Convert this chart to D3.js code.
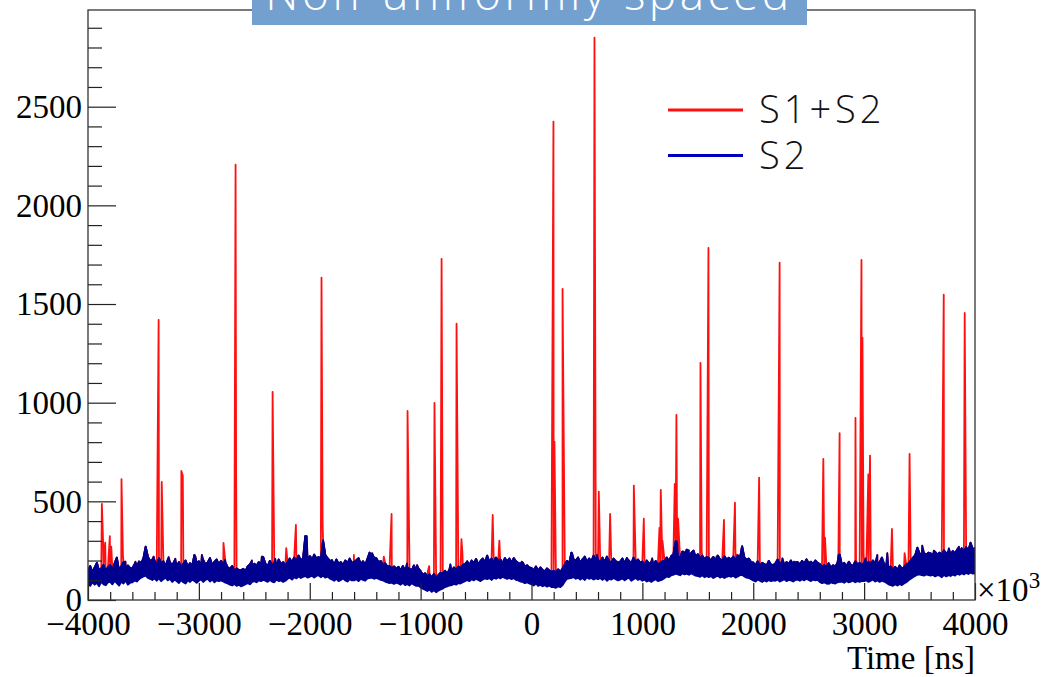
<!DOCTYPE html>
<html>
<head>
<meta charset="utf-8">
<script src="https://cdn.jsdelivr.net/npm/d3@7"></script>
<style>
  html, body { margin: 0; padding: 0; background: #ffffff; }
  svg { display: block; }
</style>
</head>
<body>
<svg id="chart" width="1042" height="677"></svg>
<script>
// ---------------- DATA ----------------
const tStart = -4000;   // first bin time (×10^3 ns)
const tStep = 20;       // bin width (×10^3 ns)

// S2: upper edge of the noisy trace in each 20 ×10^3 ns bin
const s2High = [
  150, 172, 140, 165, 188, 148, 160, 178, 142, 166,
  178, 152, 186, 215, 150, 170, 192, 158, 175, 162,
  160, 182, 168, 195, 186, 212, 270, 220, 196, 205,
  200, 178, 212, 185, 196, 172, 205, 190, 176, 198,
  170, 192, 165, 184, 200, 168, 186, 174, 228, 188,
  196, 175, 202, 180, 190, 212, 176, 194, 205, 182,
  198, 180, 188, 165, 158, 172, 148, 160, 152, 150,
  158, 146, 170, 180, 160, 184, 172, 192, 178, 218,
  185, 170, 198, 176, 190, 172, 205, 180, 192, 174,
  192, 210, 186, 215, 198, 225, 200, 212, 324, 205,
  222, 200, 230, 210, 218, 205, 302, 228, 212, 200,
  196, 178, 205, 184, 192, 176, 200, 182, 210, 186,
  190, 202, 212, 182, 196, 178, 208, 240, 198, 215,
  212, 192, 198, 175, 186, 168, 172, 160, 170, 158,
  168, 150, 172, 148, 165, 158, 150, 175, 146, 160,
  146, 128, 135, 118, 130, 114, 132, 112, 126, 138,
  135, 148, 132, 155, 146, 165, 150, 170, 160, 178,
  182, 196, 176, 200, 186, 208, 180, 198, 210, 190,
  225, 192, 210, 186, 215, 198, 205, 186, 212, 196,
  210, 190, 212, 196, 188, 182, 190, 170, 176, 165,
  162, 150, 170, 148, 165, 152, 145, 160, 150, 142,
  148, 140, 155, 142, 160, 180, 198, 185, 240, 205,
  200, 215, 188, 206, 220, 192, 210, 196, 225, 198,
  205, 188, 215, 192, 220, 198, 186, 210, 196, 188,
  195, 210, 186, 212, 198, 184, 215, 192, 205, 188,
  195, 178, 200, 182, 192, 176, 198, 180, 188, 196,
  200, 215, 196, 222, 232, 298, 220, 212, 245, 226,
  255, 220, 238, 250, 218, 232, 210, 225, 206, 218,
  212, 196, 218, 200, 225, 206, 198, 222, 204, 214,
  205, 220, 200, 226, 212, 272, 215, 205, 210, 192,
  190, 176, 196, 172, 188, 182, 174, 198, 180, 176,
  186, 205, 180, 194, 178, 192, 184, 200, 176, 190,
  192, 180, 198, 184, 206, 186, 194, 182, 200, 188,
  182, 166, 178, 168, 186, 164, 176, 170, 188, 230,
  176, 188, 170, 192, 178, 172, 196, 180, 188, 174,
  190, 176, 194, 180, 200, 184, 176, 192, 215, 182,
  178, 160, 170, 152, 168, 150, 175, 158, 166, 180,
  186, 200, 214, 226, 265, 236, 224, 238, 228, 240,
  236, 225, 244, 230, 240, 228, 252, 234, 246, 232,
  248, 236, 256, 240, 262, 244, 268, 250, 290, 258,
  262
];
// S2: lower edge of the noisy trace in each bin
const s2Low = [
  85, 72, 92, 78, 88, 70, 94, 80, 76, 90,
  92, 80, 98, 86, 74, 94, 84, 100, 78, 88,
  90, 100, 94, 106, 114, 120, 124, 112, 108, 102,
  110, 98, 112, 96, 106, 114, 100, 108, 92, 104,
  96, 86, 102, 90, 84, 100, 92, 104, 96, 88,
  98, 106, 92, 102, 108, 94, 104, 90, 100, 96,
  100, 94, 88, 84, 78, 74, 82, 72, 78, 70,
  74, 80, 86, 80, 92, 96, 90, 100, 96, 102,
  98, 92, 102, 94, 90, 104, 96, 100, 92, 98,
  108, 114, 104, 116, 110, 120, 112, 118, 122, 114,
  118, 124, 114, 122, 126, 116, 124, 114, 120, 110,
  104, 98, 108, 96, 102, 110, 100, 94, 106, 100,
  100, 106, 96, 108, 102, 98, 110, 112, 114, 108,
  112, 108, 102, 100, 94, 90, 86, 88, 82, 88,
  84, 78, 88, 76, 82, 74, 86, 78, 72, 74,
  64, 58, 52, 46, 54, 42, 50, 40, 48, 54,
  58, 66, 70, 74, 76, 82, 78, 86, 84, 90,
  96, 102, 96, 106, 100, 108, 102, 96, 104, 110,
  106, 112, 102, 114, 108, 116, 110, 118, 112, 108,
  112, 106, 112, 102, 100, 94, 92, 86, 90, 84,
  80, 74, 84, 72, 78, 70, 76, 68, 74, 66,
  66, 62, 70, 66, 76, 94, 108, 110, 112, 116,
  108, 114, 104, 112, 102, 116, 108, 112, 104, 110,
  106, 112, 102, 112, 98, 108, 104, 112, 106, 100,
  104, 110, 100, 108, 114, 98, 106, 112, 102, 108,
  98, 104, 94, 100, 92, 100, 106, 96, 100, 104,
  112, 120, 116, 126, 128, 134, 130, 126, 136, 130,
  134, 128, 136, 130, 124, 122, 118, 126, 116, 122,
  116, 122, 112, 118, 124, 114, 120, 112, 118, 122,
  118, 124, 114, 120, 126, 128, 120, 114, 112, 106,
  100, 94, 104, 98, 92, 100, 94, 102, 96, 100,
  98, 104, 94, 100, 106, 96, 102, 100, 94, 102,
  104, 98, 106, 100, 108, 102, 96, 104, 100, 102,
  92, 86, 90, 84, 82, 90, 86, 84, 90, 92,
  94, 88, 96, 90, 94, 98, 90, 96, 92, 98,
  96, 100, 92, 98, 104, 94, 100, 92, 98, 94,
  88, 80, 76, 72, 80, 74, 82, 76, 84, 90,
  100, 108, 116, 122, 128, 130, 126, 124, 130, 126,
  124, 128, 120, 126, 124, 116, 128, 120, 126, 122,
  130, 124, 134, 128, 136, 130, 138, 132, 140, 134,
  136
];
// S2: isolated noise peaks rising above the band (time, height)
const s2PeakTimes = [
  -3919, -3662, -3572, -3408, -3273, -3213, -3033, -2973, -2853, -2763,
  -2522, -2432, -2312, -2252, -2156, -2027, -1993, -1800, -1663, -1603,
  -1438, -1362, -1122, -1032, -732, -582, -462, -402, -327, -282,
  -222, -87, 306, 366, 472, 592, 682, 772, 862, 997,
  1088, 1313, 1373, 1418, 1463, 1628, 1793, 1898, 2263, 2368,
  2533, 2768, 2864, 3014, 3119, 3209, 3524, 3629, 3764, 3855, 3960
];
const s2PeakHeights = [
  187, 194, 194, 220, 217, 209, 223, 228, 194, 203,
  200, 220, 209, 186, 200, 324, 220, 203, 194, 194,
  237, 194, 186, 177, 180, 186, 194, 220, 211, 203,
  186, 194, 186, 237, 203, 228, 211, 194, 203, 194,
  211, 296, 245, 252, 249, 211, 203, 270, 211, 194,
  186, 228, 194, 211, 228, 237, 275, 250, 262, 270, 289
];

// S1 pulses on top of the baseline (time, height)
const s1Times = [
  -3875, -3862, -3845, -3803, -3790, -3698, -3685,
  -3363, -3335, -3158, -3145, -2778, -2669, -2664, -2335, -2212, -2125, -2108,
  -1894, -1884, -1602, -1332, -1262, -1118, -935, -923, -875, -811, -676, -632, -623, -350, -290,
  198, 207, 280, 568, 607, 709, 923, 1013, 1154, 1166, 1181, 1292, 1307, 1322,
  1524, 1535, 1596, 1667, 1736, 1835, 1847,
  2053, 2238, 2632, 2647, 2779, 2922, 2927, 2976, 2985, 2995, 3038, 3053,
  3251, 3365, 3410, 3718, 3907
];
const s1Heights = [
  487, 263, 291, 324, 270, 613, 228,
  1420, 598, 654, 630, 289, 2206, 649, 1055, 263, 380, 223,
  1633, 390, 228, 220, 436, 958, 145, 172, 999, 1729, 1400, 309, 238, 431, 301,
  2424, 803, 1577, 2850, 549, 436, 580, 412, 365, 558, 301, 588, 938, 412,
  1202, 245, 1785, 220, 406, 493, 231,
  620, 1709, 715, 316, 845, 923, 203, 1724, 1329, 237, 637, 732,
  360, 238, 740, 1547, 1455
];

const xTickValues = [-4000, -3000, -2000, -1000, 0, 1000, 2000, 3000, 4000];
const yTickValues = [0, 500, 1000, 1500, 2000, 2500];
const seriesNames = ["S1+S2", "S2"];
const titleText = "Non-uniformly spaced";
const xTitle = "Time [ns]";

// ---------------- BUILD ----------------
const frame = { left: 88, right: 975, top: 10, bottom: 600 };
const svg = d3.select("#chart");

const x = d3.scaleLinear().domain([-4000, 4000]).range([frame.left, frame.right]);
const y = d3.scaleLinear().domain([0, 2990]).range([frame.bottom, frame.top]);

const s2 = s2High.map((hi, i) => ({ t: tStart + i * tStep, hi, lo: s2Low[i] }));
const s2Edge = s2.map(d => ({ t: d.t, v: d.hi }))
  .concat(s2PeakTimes.map((t, i) => ({ t, v: s2PeakHeights[i] })))
  .sort((a, b) => a.t - b.t);
const s1s2 = s2Edge.concat(s1Times.map((t, i) => ({ t, v: s1Heights[i] })))
  .sort((a, b) => a.t - b.t);

const line = d3.line().x(d => x(d.t)).y(d => y(d.v));
const area = d3.area().x(d => x(d.t)).y0(d => y(d.lo)).y1(d => y(d.hi));

const colRed = "#ff1010";
const colBlue = "#000090";

svg.append("defs").append("clipPath").attr("id", "clip")
  .append("rect").attr("x", frame.left).attr("y", frame.top)
  .attr("width", frame.right - frame.left).attr("height", frame.bottom - frame.top);

const plot = svg.append("g").attr("clip-path", "url(#clip)");
plot.append("path").datum(s1s2).attr("d", line)
  .attr("fill", "none").attr("stroke", colRed).attr("stroke-width", 1.8)
  .attr("stroke-linejoin", "round");
plot.append("path").datum(s2).attr("d", area)
  .attr("fill", colBlue).attr("stroke", colBlue).attr("stroke-width", 2)
  .attr("stroke-linejoin", "round");
plot.append("path").datum(s2Edge).attr("d", line)
  .attr("fill", "none").attr("stroke", colBlue).attr("stroke-width", 1.8)
  .attr("stroke-linejoin", "round");

// axes
const axisColor = "#222";
const serif = "'Liberation Serif', 'Times New Roman', serif";

const yMinor = d3.range(0, 2990, 100).filter(v => v % 500 !== 0);
const yMinorAxis = d3.axisLeft(y).tickValues(yMinor).tickFormat("").tickSize(-14);
const yAxis = d3.axisLeft(y).tickValues(yTickValues).tickSize(-28).tickPadding(6)
  .tickFormat(d3.format("d"));
const gYm = svg.append("g").attr("transform", `translate(${frame.left},0)`).call(yMinorAxis);
const gY = svg.append("g").attr("transform", `translate(${frame.left},0)`).call(yAxis);

const xMinor = d3.range(-4000, 4001, 200).filter(v => v % 1000 !== 0);
const xMinorAxis = d3.axisBottom(x).tickValues(xMinor).tickFormat("").tickSize(-8);
const xAxis = d3.axisBottom(x).tickValues(xTickValues).tickSize(-17).tickPadding(12)
  .tickFormat(d3.format("d"));
const gXm = svg.append("g").attr("transform", `translate(0,${frame.bottom})`).call(xMinorAxis);
const gX = svg.append("g").attr("transform", `translate(0,${frame.bottom})`).call(xAxis);

[gYm, gY, gXm, gX].forEach(g => {
  g.select(".domain").remove();
  g.selectAll("line").attr("stroke", axisColor).attr("stroke-width", 1.2);
  g.selectAll("text").attr("fill", "#000").style("font-family", serif).style("font-size", "33px");
});
gY.selectAll("text").attr("dy", "0.33em");

// frame
svg.append("rect").attr("x", frame.left).attr("y", frame.top)
  .attr("width", frame.right - frame.left).attr("height", frame.bottom - frame.top)
  .attr("fill", "none").attr("stroke", "#333").attr("stroke-width", 1.3);

// exponent
const exp = svg.append("text").attr("x", 977).attr("y", 601)
  .style("font-family", serif).style("font-size", "33px").attr("fill", "#000");
exp.append("tspan").text("×10");
exp.append("tspan").attr("dy", -13).style("font-size", "23px").text("3");

// x title
svg.append("text").attr("x", frame.right).attr("y", 669).attr("text-anchor", "end")
  .style("font-family", serif).style("font-size", "33px").attr("fill", "#000").text(xTitle);

// legend
const sans = "'Open Sans', 'Noto Sans', sans-serif";
const legend = svg.append("g");
[colRed, colBlue].forEach((c, i) => {
  const ly = 110 + i * 45.5;
  legend.append("line").attr("x1", 668).attr("x2", 743).attr("y1", ly).attr("y2", ly)
    .attr("stroke", i === 0 ? colRed : "#0000c0").attr("stroke-width", 3);
  legend.append("text").attr("x", 759).attr("y", ly + 13)
    .style("font-family", sans).style("font-weight", 300).style("font-size", "38px")
    .style("letter-spacing", "4px").attr("fill", "#111").text(seriesNames[i]);
});

// title box
svg.append("rect").attr("x", 252).attr("y", 0).attr("width", 555).attr("height", 25)
  .attr("fill", "#74a0d0");
svg.append("text").attr("x", 529).attr("y", 10).attr("text-anchor", "middle")
  .style("font-family", sans).style("font-weight", 300).style("font-size", "46px")
  .style("letter-spacing", "3.5px").attr("fill", "#ffffff").text(titleText);
</script>
</body>
</html>
